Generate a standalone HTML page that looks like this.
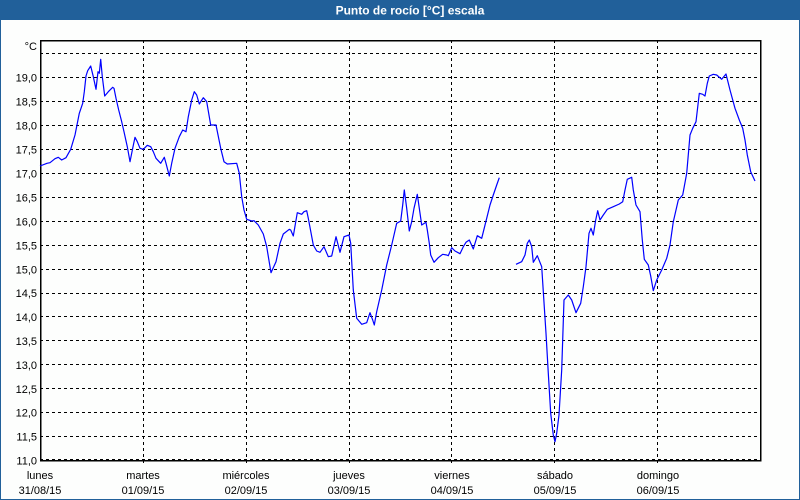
<!DOCTYPE html>
<html><head><meta charset="utf-8"><style>
html,body{margin:0;padding:0;background:#fff;}
svg{display:block;}
text{font-family:"Liberation Sans",sans-serif;}
</style></head><body>
<svg width="800" height="500" viewBox="0 0 800 500" xmlns="http://www.w3.org/2000/svg">
<rect x="0" y="0" width="800" height="500" fill="#fdfefd"/>
<rect x="0" y="0" width="800" height="20" fill="#21609a"/>
<rect x="0.5" y="0.5" width="799" height="499" fill="none" stroke="#21609a" stroke-width="1"/>
<text x="410" y="14.5" fill="#fff" font-size="12" font-weight="bold" text-anchor="middle">Punto de rocío [°C] escala</text>
<g stroke="#000" stroke-width="1" stroke-dasharray="3,3" shape-rendering="crispEdges" fill="none">
<line x1="40" y1="53.5" x2="760" y2="53.5"/>
<line x1="40" y1="77.5" x2="760" y2="77.5"/>
<line x1="40" y1="101.5" x2="760" y2="101.5"/>
<line x1="40" y1="125.5" x2="760" y2="125.5"/>
<line x1="40" y1="149.5" x2="760" y2="149.5"/>
<line x1="40" y1="173.5" x2="760" y2="173.5"/>
<line x1="40" y1="197.5" x2="760" y2="197.5"/>
<line x1="40" y1="221.5" x2="760" y2="221.5"/>
<line x1="40" y1="245.5" x2="760" y2="245.5"/>
<line x1="40" y1="269.5" x2="760" y2="269.5"/>
<line x1="40" y1="293.5" x2="760" y2="293.5"/>
<line x1="40" y1="316.5" x2="760" y2="316.5"/>
<line x1="40" y1="340.5" x2="760" y2="340.5"/>
<line x1="40" y1="364.5" x2="760" y2="364.5"/>
<line x1="40" y1="388.5" x2="760" y2="388.5"/>
<line x1="40" y1="412.5" x2="760" y2="412.5"/>
<line x1="40" y1="436.5" x2="760" y2="436.5"/>
<line x1="40" y1="459.5" x2="760" y2="459.5"/>
<line x1="143.5" y1="40" x2="143.5" y2="464"/>
<line x1="246.5" y1="40" x2="246.5" y2="464"/>
<line x1="349.5" y1="40" x2="349.5" y2="464"/>
<line x1="451.5" y1="40" x2="451.5" y2="464"/>
<line x1="554.5" y1="40" x2="554.5" y2="464"/>
<line x1="657.5" y1="40" x2="657.5" y2="464"/>
</g>
<rect x="40.5" y="40.5" width="720" height="420" fill="none" stroke="#000" stroke-width="1.5" shape-rendering="crispEdges"/>
<g font-size="11" fill="#000" text-anchor="end">
<text x="37" y="50">°C</text>
<text x="37" y="81.5">19,0</text>
<text x="37" y="105.5">18,5</text>
<text x="37" y="129.5">18,0</text>
<text x="37" y="153.5">17,5</text>
<text x="37" y="177.5">17,0</text>
<text x="37" y="201.5">16,5</text>
<text x="37" y="225.5">16,0</text>
<text x="37" y="249.5">15,5</text>
<text x="37" y="273.5">15,0</text>
<text x="37" y="297">14,5</text>
<text x="37" y="321">14,0</text>
<text x="37" y="345">13,5</text>
<text x="37" y="369">13,0</text>
<text x="37" y="393">12,5</text>
<text x="37" y="416.5">12,0</text>
<text x="37" y="440.5">11,5</text>
<text x="37" y="464.5">11,0</text>
</g>
<g font-size="11" fill="#000" text-anchor="middle">
<text x="40" y="479">lunes</text><text x="40" y="494">31/08/15</text>
<text x="143" y="479">martes</text><text x="143" y="494">01/09/15</text>
<text x="246" y="479">miércoles</text><text x="246" y="494">02/09/15</text>
<text x="349" y="479">jueves</text><text x="349" y="494">03/09/15</text>
<text x="452" y="479">viernes</text><text x="452" y="494">04/09/15</text>
<text x="555" y="479">sábado</text><text x="555" y="494">05/09/15</text>
<text x="658" y="479">domingo</text><text x="658" y="494">06/09/15</text>
</g>
<g fill="none" stroke="#0000ff" stroke-width="1.2" stroke-linejoin="round">
<polyline points="40,166 47,163.3 50,162.7 55,158.7 58.3,157.3 61.7,160 66,157.7 70.7,149.3 75,135 79.3,113.3 82.7,103.3 84.3,91.7 86,76 87.7,70.7 90.7,66 93.3,76.7 96,89.3 98,71.7 99.3,73.3 100.7,59.3 102.3,76.7 104.7,96 108.3,91.7 112.7,87.3 114,88.3 116,98.3 118.7,110 121.7,121.7 124,131.7 127.3,146.7 130,161.7 132.7,148.3 135,137.3 137.3,141.7 140,148.3 143.3,149.3 147.3,145.3 150.7,146.7 153.3,151.7 156,158.3 160.7,163.3 164.3,157.3 166,163.3 169.3,176 171.7,163.3 175,148.3 179.3,136.7 182.7,130 186,131.7 188.3,116.7 191.7,100 194.3,91.7 196.7,95 199.3,104 203.3,97.7 206.7,101.7 210.7,125 216,125 220.7,148.3 224,161.7 227.3,164 236.7,163.3 239.3,173.3 241.7,196.7 244,210 246.7,219.3 251.7,221 254,220.7 258.3,225 263.3,234 266.7,246.7 271,272.7 276,261.7 280,243.3 283.3,234 289.3,229.3 290.7,230 293.3,236 297.3,212.7 301.7,214.3 304,211.7 306.7,210.7 308.3,218.3 313.3,245 316.7,251 320,252.3 324,246.7 328.3,256.7 331.7,256 336,236.7 340,252.3 344,236.7 349,235 350.7,243.3 353.3,290 356.7,318.3 361.7,324.3 366.7,322.7 370,312.7 372.7,320 374.3,325 376.7,311.7 381.7,290 386.7,265 391.7,245 396.7,223.3 400.7,221 402.7,205 404.3,190 406.7,208.3 409.3,231 411.7,221.7 414,208.3 417.3,194.3 419.3,208.3 421.7,225 426,222.3 427.3,230 429.3,243.3 430.7,255 434,262.3 438.3,257.7 442.7,254.3 446.7,255 448.3,255.7 451.7,247.7 455,251 460,253.7 463.3,246.7 466,242.3 469.3,240 473.3,249 477.3,235.7 481.7,238.3 486.7,218.3 490,205 493.3,195 496.7,185 499.3,177.7"/>
<polyline points="516,264.3 521.7,261.7 525,255 527.3,243.3 529.3,240 531.7,246.7 533.3,262.3 537.3,255.7 541.7,266.7 543.3,291.7 546,333.3 548.3,373.3 550.7,413.3 553.3,435 555,441.7 556.7,433.3 559,415 561.7,370 564,300 568.3,295 571.7,300 576,312.7 580.7,303.3 583.3,286.7 586,266.7 589,233.3 591,228.3 593.3,235 595.7,220 597.7,210.7 600,220 603.3,215 607.3,209.3 613.3,206.7 619.3,204 622.7,201.7 625,190 627.3,179.3 631.7,177.3 633.3,190 636,205 640,211.7 642.3,240 644.3,259.3 648.3,265 650.7,276 653.3,290.7 656.7,280 661.7,270 666.7,258.3 670,245 673.3,221.7 678.3,200 682.7,195 686.7,173.3 690,135 692.7,128.3 696,121.7 699.3,93.3 702.7,94.3 705,96 707.3,83.3 709.3,76 713.3,74.3 716.7,75 721.7,79.3 726,74 730,90 735,108.3 739.3,120 742.7,128.3 745,140 747.3,155 750.7,171.7 755,181"/>
</g>
</svg>
</body></html>
